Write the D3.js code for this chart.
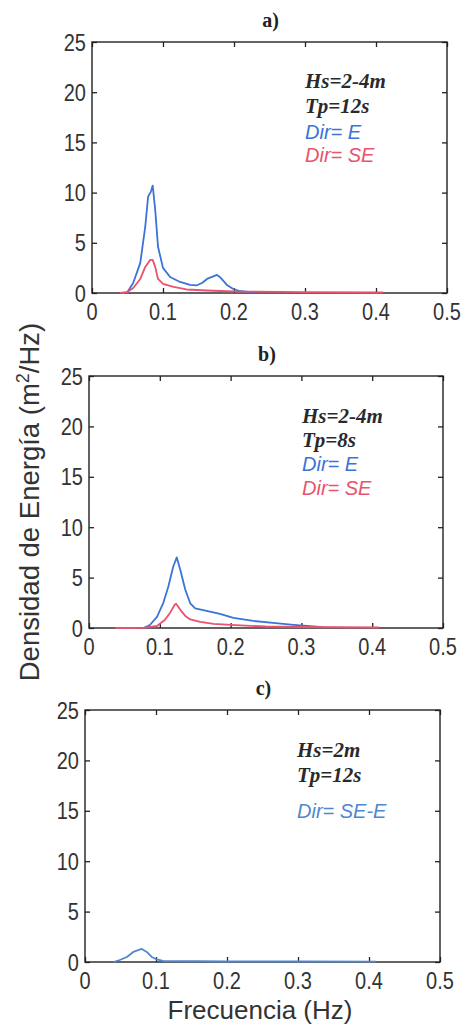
<!DOCTYPE html>
<html>
<head>
<meta charset="utf-8">
<script src="https://cdn.jsdelivr.net/npm/d3@7"></script>
<style>
  body { margin: 0; background: #fff; }
  svg { display: block; }
  .frame { fill: none; stroke: #222; stroke-width: 1.4px; }
  .tick line { stroke: #222; stroke-width: 1.3px; }
  .domain { display: none; }
  .ticklbl { font-family: "Liberation Sans", Arial, sans-serif; font-size: 20px; fill: #333; }
  .ptitle { font-family: "Liberation Serif", serif; font-weight: bold; font-size: 20px; fill: #222; }
  .note { font-family: "Liberation Serif", serif; font-weight: bold; font-style: italic; font-size: 21px; fill: #2a2a2a; }
  .dir { font-family: "Liberation Sans", sans-serif; font-style: italic; font-size: 20px; }
  .axlbl { font-family: "Liberation Sans", Arial, sans-serif; font-size: 26px; fill: #333; }
</style>
</head>
<body>
<svg width="461" height="1029"></svg>
<script>
// tick values
const xTicks = [0, 0.1, 0.2, 0.3, 0.4, 0.5];
const yTicks = [0, 5, 10, 15, 20, 25];

// a) Hs=2-4m Tp=12s
const fA_E = [0.049, 0.058, 0.068, 0.075, 0.079, 0.083, 0.0855, 0.089, 0.093, 0.1, 0.11, 0.124, 0.138, 0.147, 0.155, 0.162, 0.176, 0.18, 0.19, 0.199, 0.208, 0.223, 0.23];
const sA_E = [0, 1.0, 3.0, 6.6, 9.6, 10.1, 10.7, 8.3, 4.6, 2.5, 1.6, 1.1, 0.8, 0.75, 1.0, 1.4, 1.8, 1.6, 0.8, 0.4, 0.2, 0.08, 0.05];
const fA_SE = [0.04, 0.05, 0.058, 0.068, 0.075, 0.082, 0.0855, 0.089, 0.093, 0.1, 0.115, 0.133, 0.162, 0.2, 0.3, 0.41];
const sA_SE = [0, 0.1, 0.5, 1.4, 2.6, 3.3, 3.3, 2.6, 1.4, 0.9, 0.6, 0.35, 0.25, 0.15, 0.08, 0.05];

// b) Hs=2-4m Tp=8s
const fB_E = [0.077, 0.086, 0.096, 0.105, 0.112, 0.119, 0.124, 0.129, 0.136, 0.143, 0.15, 0.166, 0.185, 0.204, 0.232, 0.26, 0.289, 0.317, 0.33];
const sB_E = [0, 0.3, 1.1, 2.5, 4.1, 6.1, 7.0, 5.75, 3.8, 2.45, 1.95, 1.7, 1.4, 1.0, 0.7, 0.5, 0.3, 0.15, 0.08];
const fB_SE = [0.037, 0.077, 0.096, 0.107, 0.114, 0.121, 0.123, 0.129, 0.136, 0.143, 0.157, 0.176, 0.2, 0.25, 0.3, 0.41];
const sB_SE = [0, 0.02, 0.2, 0.8, 1.45, 2.3, 2.4, 1.8, 1.2, 0.85, 0.6, 0.4, 0.3, 0.15, 0.1, 0.05];

// c) Hs=2m Tp=12s
const fC = [0.04, 0.049, 0.059, 0.068, 0.08, 0.087, 0.094, 0.101, 0.11, 0.2, 0.3, 0.41];
const sC = [0, 0.2, 0.5, 1.0, 1.3, 1.0, 0.5, 0.25, 0.1, 0.05, 0.05, 0.03];

const BLUE = "#3b73d6", RED = "#e9536e", BLUE_C = "#5087d0";

const panels = [
  { title: "a)", box: { l: 92, r: 447, t: 42, b: 293 },
    notes: ["Hs=2-4m", "Tp=12s"], noteX: 305, noteY: [88, 113],
    dirs: [["Dir= E", BLUE, 139], ["Dir= SE", RED, 162]],
    series: [[fA_E, sA_E, BLUE], [fA_SE, sA_SE, RED]] },
  { title: "b)", box: { l: 89, r: 443, t: 376, b: 628 },
    notes: ["Hs=2-4m", "Tp=8s"], noteX: 302, noteY: [423, 447],
    dirs: [["Dir= E", BLUE, 471], ["Dir= SE", RED, 495]],
    series: [[fB_E, sB_E, BLUE], [fB_SE, sB_SE, RED]] },
  { title: "c)", box: { l: 85, r: 440, t: 710, b: 962 },
    notes: ["Hs=2m", "Tp=12s"], noteX: 297, noteY: [757, 782],
    dirs: [["Dir= SE-E", BLUE_C, 818]],
    series: [[fC, sC, BLUE_C]] }
];

const svg = d3.select("svg");

panels.forEach(p => {
  const B = p.box;
  const x = d3.scaleLinear().domain([0, 0.5]).range([B.l, B.r]);
  const y = d3.scaleLinear().domain([0, 25]).range([B.b, B.t]);
  const g = svg.append("g");

  // inward ticks on all four sides
  g.append("g").attr("transform", `translate(0,${B.b})`)
    .call(d3.axisBottom(x).tickValues(xTicks).tickSize(-5).tickFormat(""));
  g.append("g").attr("transform", `translate(0,${B.t})`)
    .call(d3.axisTop(x).tickValues(xTicks).tickSize(-5).tickFormat(""));
  g.append("g").attr("transform", `translate(${B.l},0)`)
    .call(d3.axisLeft(y).tickValues(yTicks).tickSize(-5).tickFormat(""));
  g.append("g").attr("transform", `translate(${B.r},0)`)
    .call(d3.axisRight(y).tickValues(yTicks).tickSize(-5).tickFormat(""));

  g.append("rect").attr("class", "frame")
    .attr("x", B.l).attr("y", B.t)
    .attr("width", B.r - B.l).attr("height", B.b - B.t);

  // tick labels (tall narrow look of the original)
  g.selectAll("text.xl").data(xTicks).enter().append("text")
    .attr("class", "ticklbl").attr("text-anchor", "middle")
    .attr("transform", d => `translate(${x(d)},${B.b + 27}) scale(1,1.18)`)
    .text(d => d);
  g.selectAll("text.yl").data(yTicks).enter().append("text")
    .attr("class", "ticklbl").attr("text-anchor", "end")
    .attr("transform", d => `translate(${B.l - 6},${y(d) + 8.5}) scale(1,1.18)`)
    .text(d => d);

  const line = d3.line().x(d => x(d[0])).y(d => y(d[1]));
  p.series.forEach(([f, s, c]) => {
    g.append("path")
      .datum(f.map((v, i) => [v, s[i]]))
      .attr("fill", "none").attr("stroke", c)
      .attr("stroke-width", 1.8).attr("stroke-linejoin", "round")
      .attr("d", line);
  });

  g.append("text").attr("class", "ptitle")
    .attr("x", (B.l + B.r) / 2 + 1).attr("y", B.t - 15)
    .attr("text-anchor", "middle").text(p.title);

  p.notes.forEach((t, i) => {
    g.append("text").attr("class", "note")
      .attr("x", p.noteX).attr("y", p.noteY[i]).text(t);
  });
  p.dirs.forEach(([t, c, yy]) => {
    g.append("text").attr("class", "dir")
      .attr("x", p.noteX).attr("y", yy).attr("fill", c).text(t);
  });
});

// axis titles
svg.append("text").attr("class", "axlbl")
  .attr("transform", "translate(39,502) rotate(-90)")
  .attr("text-anchor", "middle")
  .style("font-size", "27.5px")
  .html('Densidad de Energía (m<tspan dy="-10" font-size="18px">2</tspan><tspan dy="10">/Hz)</tspan>');

svg.append("text").attr("class", "axlbl")
  .attr("x", 260).attr("y", 1019)
  .attr("text-anchor", "middle")
  .text("Frecuencia (Hz)");
</script>
</body>
</html>
